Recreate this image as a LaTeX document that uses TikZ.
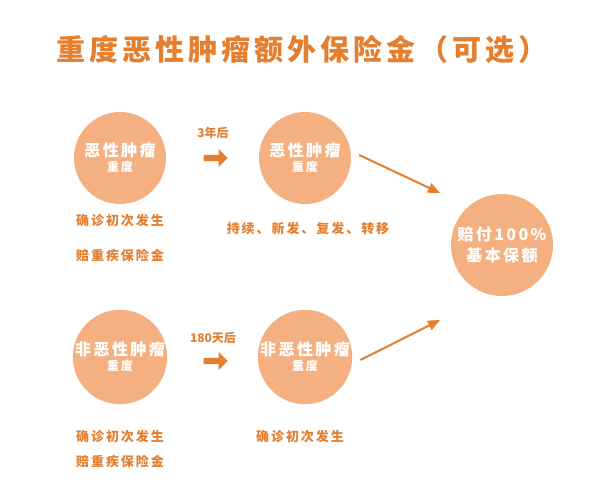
\documentclass[tikz,border=0pt]{standalone}
\usepackage{fontspec}
\newfontfamily\cjk{Noto Sans CJK SC}
\newfontfamily\cjks{Noto Sans CJK SC}[LetterSpace=15]
\newfontfamily\cjkt{Noto Sans CJK SC}[LetterSpace=14]
\usetikzlibrary{arrows.meta,shapes.arrows}
\definecolor{circ}{HTML}{F5B082}
\definecolor{org}{HTML}{E57F30}
\begin{document}
\begin{tikzpicture}[x=1pt,y=-1pt,font=\cjks\bfseries,
  bub/.style={circle,fill=circ,minimum size=92pt,inner sep=0pt,text=white,align=center},
  lbl/.style={text=org,font=\cjks\bfseries\fontsize{13}{15}\selectfont},
  fat/.style={single arrow,fill=org,minimum height=24pt,minimum width=18pt,single arrow head extend=4pt,inner sep=2pt},
  lnk/.style={org,line width=2pt,-{Triangle[length=12pt,width=10pt]}}]
\useasboundingbox (0,0) rectangle (600,499);
\node[text=org,font=\cjkt\bfseries\fontsize{29}{33}\selectfont] (title) at (302,50) {重度恶性肿瘤额外保险金（可选）};
\node[bub] (a) at (120,158) {{\fontsize{16}{19}\selectfont 恶性肿瘤}\\[3pt]{\fontsize{12}{14}\selectfont 重度}};
\node[bub] (b) at (305,158) {{\fontsize{16}{19}\selectfont 恶性肿瘤}\\[3pt]{\fontsize{12}{14}\selectfont 重度}};
\node[bub] (c) at (120,357) {{\fontsize{16}{19}\selectfont 非恶性肿瘤}\\[3pt]{\fontsize{12}{14}\selectfont 重度}};
\node[bub] (d) at (305,357) {{\fontsize{16}{19}\selectfont 非恶性肿瘤}\\[3pt]{\fontsize{12}{14}\selectfont 重度}};
\node[bub,minimum size=102pt] (e) at (502,245) {{\fontsize{16}{20}\selectfont 赔付100\%}\\[5pt]{\fontsize{16}{20}\selectfont 基本保额}};
\node[fat] (f1) at (214,158) {};
\node[fat] (f2) at (214,361) {};
\node[lbl,font=\cjk\bfseries\fontsize{12}{14}\selectfont] (l1) at (213,133) {3年后};
\node[lbl,font=\cjk\bfseries\fontsize{12}{14}\selectfont] (l2) at (213,338) {180天后};
\node[lbl] (t1) at (120,221) {确诊初次发生};
\node[lbl] (t2) at (120,256) {赔重疾保险金};
\node[lbl] (t3) at (308,229) {持续、新发、复发、转移};
\node[lbl] (t4) at (120,437) {确诊初次发生};
\node[lbl] (t5) at (120,462) {赔重疾保险金};
\node[lbl] (t6) at (300,437) {确诊初次发生};
\coordinate (p1) at (440,193);
\coordinate (p2) at (440,320);
\draw[lnk] ([shift={(8,-3)}]b.east) -- (p1);
\draw[lnk] ([shift={(8,3)}]d.east) -- (p2);
\end{tikzpicture}
\end{document}
